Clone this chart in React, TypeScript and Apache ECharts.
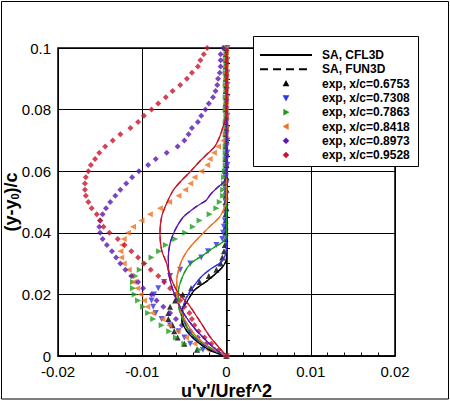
import React, { useEffect, useRef } from 'react';
import * as echarts from 'echarts';

const FONT = '"Liberation Sans", Arial, Helvetica, sans-serif';

// experimental stations (y-y0)/c
const expY = [
  0.1, 0.098, 0.096, 0.094, 0.092, 0.09, 0.088, 0.086, 0.084, 0.082,
  0.08, 0.078, 0.076, 0.074, 0.072, 0.07, 0.068, 0.066, 0.064, 0.062,
  0.06, 0.058, 0.056, 0.054, 0.052, 0.05, 0.048, 0.046, 0.044, 0.042,
  0.04, 0.038, 0.036, 0.034, 0.032, 0.03, 0.028, 0.026, 0.024, 0.022,
  0.02, 0.018, 0.016, 0.014, 0.012, 0.01, 0.008, 0.006, 0.004, 0.002,
  0,
];

const exp6753 = [
  0, -0.0001, 0, -0.0001, 0, -0.0001, 0, -0.0001, 0, -0.0001,
  -0.0001, 0, -0.0001, 0, -0.0001, 0, -0.0001, 0, -0.0001, 0,
  -0.0001, 0, -0.0001, 0, -0.0001, -0.0001, 0, -0.0001, -0.0001, -0.0001,
  -0.0001, -0.0001, -0.0002, -0.0003, -0.0005, -0.0007, -0.0012, -0.0021, -0.0032, -0.0042,
  -0.0052, -0.0061, -0.0067, -0.0069, -0.0069, -0.0064, -0.0062, -0.0058, -0.005, -0.0035,
  0,
];
const exp7308 = [
  0.0001, 0, 0.0001, 0, 0.0001, 0, 0.0001, 0, 0.0001, 0,
  0, 0.0001, 0, 0.0001, 0, 0.0001, 0, 0.0001, 0, 0.0001,
  -0.0001, -0.0001, 0, -0.0001, -0.0001, -0.0001, -0.0001, -0.0001, -0.0002, -0.0003,
  -0.0004, -0.0005, -0.0012, -0.0022, -0.003, -0.0043, -0.0055, -0.0067, -0.0074, -0.0081,
  -0.0086, -0.0089, -0.0087, -0.0084, -0.0077, -0.0067, -0.0057, -0.005, -0.0043, -0.0028,
  0,
];
const exp7863 = [
  -0.0001, 0, -0.0001, 0, -0.0001, 0, -0.0001, 0, -0.0001, 0,
  -0.0001, 0, -0.0001, 0, -0.0001, 0, -0.0001, -0.0001, -0.0001, -0.0001,
  -0.0002, -0.0003, -0.0003, -0.0004, -0.0004, -0.0008, -0.0012, -0.002, -0.0032, -0.004,
  -0.0049, -0.0061, -0.0072, -0.008, -0.0089, -0.0097, -0.0103, -0.0108, -0.0111, -0.0111,
  -0.0109, -0.0105, -0.0099, -0.0093, -0.0087, -0.0077, -0.0068, -0.006, -0.005, -0.0032,
  0,
];
const exp8418 = [
  -0.0001, -0.0001, -0.0001, -0.0001, -0.0001, -0.0001, -0.0001, -0.0001, -0.0001, -0.0001,
  -0.0001, -0.0001, -0.0001, -0.0001, -0.0001, -0.0004, -0.001, -0.0015, -0.002, -0.0023,
  -0.003, -0.0038, -0.0043, -0.0049, -0.0057, -0.0068, -0.0079, -0.0091, -0.0101, -0.0111,
  -0.0117, -0.0122, -0.0124, -0.0126, -0.0125, -0.0122, -0.0116, -0.0113, -0.011, -0.0106,
  -0.0102, -0.0098, -0.0094, -0.0088, -0.0076, -0.0068, -0.0058, -0.0048, -0.0038, -0.0022,
  0,
];
const exp8973 = [
  -0.0004, -0.0007, -0.0007, -0.0007, -0.0008, -0.001, -0.0011, -0.0013, -0.0016, -0.0021,
  -0.0025, -0.003, -0.0034, -0.0041, -0.0045, -0.005, -0.0058, -0.0071, -0.0084, -0.0093,
  -0.0104, -0.0112, -0.0119, -0.0126, -0.0132, -0.0138, -0.0143, -0.0147, -0.015, -0.0151,
  -0.015, -0.0147, -0.0142, -0.0136, -0.0131, -0.0126, -0.012, -0.0113, -0.0105, -0.0099,
  -0.0089, -0.0083, -0.0075, -0.0067, -0.006, -0.0053, -0.0043, -0.0034, -0.0024, -0.0014,
  0,
];
const exp9528 = [
  -0.0023, -0.0027, -0.0031, -0.0034, -0.0041, -0.0047, -0.0055, -0.0064, -0.0072, -0.0081,
  -0.0089, -0.0098, -0.0105, -0.0114, -0.0126, -0.0135, -0.0144, -0.0151, -0.0156, -0.0161,
  -0.0164, -0.0167, -0.0168, -0.0168, -0.0167, -0.0164, -0.016, -0.0154, -0.015, -0.0146,
  -0.0139, -0.0129, -0.0121, -0.0113, -0.0105, -0.0098, -0.009, -0.0081, -0.0074, -0.0067,
  -0.0061, -0.0055, -0.005, -0.0044, -0.0041, -0.0038, -0.0033, -0.0026, -0.0018, -0.0009,
  0,
];

// SA computations: [u'v'/Uref^2, (y-y0)/c]
const sa6753 = [[0, 0.1], [0, 0.0318], [-0.0001, 0.0305], [-0.0006, 0.0285], [-0.0022, 0.0246], [-0.0038, 0.0214], [-0.0047, 0.0176], [-0.0053, 0.0149], [-0.0053, 0.0116], [-0.0046, 0.0077], [-0.0034, 0.0045], [-0.002, 0.0019], [-0.0008, 0.0006], [0, 0]];
const sa7308 = [[0, 0.1], [0, 0.0344], [-0.0006, 0.0306], [-0.0018, 0.0284], [-0.003, 0.0257], [-0.0041, 0.0219], [-0.0049, 0.0181], [-0.0052, 0.0142], [-0.0048, 0.01], [-0.0039, 0.0061], [-0.0024, 0.0032], [-0.001, 0.0012], [0, 0]];
const sa7863 = [[0, 0.1], [0, 0.0389], [-0.0004, 0.0371], [-0.0014, 0.0354], [-0.0028, 0.0327], [-0.004, 0.0306], [-0.0047, 0.0285], [-0.0053, 0.0252], [-0.0057, 0.0214], [-0.0057, 0.0165], [-0.0053, 0.0127], [-0.0045, 0.0084], [-0.0032, 0.0048], [-0.0017, 0.0022], [0, 0]];
const sa8418 = [[0, 0.1], [0, 0.0506], [-0.0002, 0.0485], [-0.0008, 0.0452], [-0.002, 0.042], [-0.0032, 0.0387], [-0.0043, 0.0354], [-0.0051, 0.0322], [-0.0056, 0.0289], [-0.0059, 0.0246], [-0.0059, 0.0207], [-0.0056, 0.0159], [-0.0048, 0.011], [-0.0036, 0.0064], [-0.0022, 0.0032], [0, 0]];
const sa8973 = [[0, 0.1], [0, 0.0588], [-0.0003, 0.0565], [-0.001, 0.0549], [-0.0018, 0.0528], [-0.0024, 0.0506], [-0.0036, 0.0485], [-0.0051, 0.0452], [-0.0061, 0.0409], [-0.0067, 0.0366], [-0.0069, 0.0322], [-0.0069, 0.0279], [-0.0066, 0.0236], [-0.006, 0.0188], [-0.0051, 0.0139], [-0.0038, 0.009], [-0.0022, 0.0045], [-0.001, 0.0015], [0, 0]];
const sa9528 = [[0, 0.1], [0, 0.0783], [-0.0002, 0.076], [-0.0004, 0.0745], [-0.0008, 0.0712], [-0.0014, 0.068], [-0.0022, 0.0658], [-0.0034, 0.0626], [-0.0043, 0.0598], [-0.0053, 0.0571], [-0.0063, 0.0539], [-0.0071, 0.0496], [-0.0077, 0.0452], [-0.0079, 0.0398], [-0.0077, 0.0344], [-0.0071, 0.03], [-0.0065, 0.0246], [-0.0057, 0.0203], [-0.0046, 0.0171], [-0.0034, 0.0123], [-0.002, 0.0064], [-0.0008, 0.0025], [0, 0]];

const stations = ['0.6753', '0.7308', '0.7863', '0.8418', '0.8973', '0.9528'];
const colors = ['#000000', '#3232e6', '#1a9e1a', '#f07020', '#5a16b0', '#c8142a'];
const expSets = [exp6753, exp7308, exp7863, exp8418, exp8973, exp9528];
const saSets = [sa6753, sa7308, sa7863, sa8418, sa8973, sa9528];
const symbols = ['triangle', 'triangle', 'triangle', 'triangle', 'diamond', 'diamond'];
const rotations = [0, 180, -90, 90, 0, 0];

const fmt = (v: number) => (Math.abs(v) < 1e-12 ? '0' : String(parseFloat(v.toFixed(4))));

function legendGlyph(i: number, cx: number, cy: number) {
  const s = 3;
  let pts: number[][];
  if (i === 0) pts = [[cx, cy - s], [cx + s, cy + s * 0.8], [cx - s, cy + s * 0.8]];
  else if (i === 1) pts = [[cx, cy + s], [cx + s, cy - s * 0.8], [cx - s, cy - s * 0.8]];
  else if (i === 2) pts = [[cx + s, cy], [cx - s * 0.8, cy - s], [cx - s * 0.8, cy + s]];
  else if (i === 3) pts = [[cx - s, cy], [cx + s * 0.8, cy - s], [cx + s * 0.8, cy + s]];
  else pts = [[cx, cy - s], [cx + s, cy], [cx, cy + s], [cx - s, cy]];
  return { type: 'polygon', z: 101, shape: { points: pts }, style: { fill: colors[i], stroke: colors[i], lineWidth: 0.5 } };
}

export default function App() {
  const ref = useRef<HTMLDivElement>(null);
  useEffect(() => {
    document.body.style.margin = '0';
    if (!ref.current) return;
    const chart = echarts.init(ref.current, undefined, { renderer: 'svg' });

    const series: any[] = [];
    expSets.forEach((xs, i) => {
      series.push({
        name: 'exp, x/c=' + stations[i],
        type: 'scatter',
        data: xs.map((x, k) => [x, expY[k]]),
        symbol: symbols[i],
        symbolSize: 6,
        symbolRotate: rotations[i],
        itemStyle: { color: colors[i] },
        z: 2,
      });
    });
    saSets.forEach((d, i) => {
      series.push({
        name: 'SA, CFL3D ' + stations[i],
        type: 'line',
        data: d,
        showSymbol: false,
        smooth: 0.25,
        lineStyle: { color: colors[i], width: 1.3, type: 'solid' },
        z: 3,
      });
    });
    saSets.forEach((d, i) => {
      series.push({
        name: 'SA, FUN3D ' + stations[i],
        type: 'line',
        data: d,
        showSymbol: false,
        smooth: 0.25,
        lineStyle: { color: colors[i], width: 1.3, type: [6, 4] },
        z: 3,
      });
    });

    const rowY = [55, 69.3, 83.6, 97.9, 112.2, 126.5, 140.8, 155.1];
    const graphic: any[] = [
      { type: 'rect', z: 100, shape: { x: 1.5, y: 1.5, width: 447, height: 397.5 }, style: { fill: 'none', stroke: '#000', lineWidth: 1 } },
      { type: 'rect', z: 100, shape: { x: 253.5, y: 36.5, width: 165, height: 130 }, style: { fill: '#fff', stroke: '#000', lineWidth: 1 } },
      { type: 'line', z: 101, shape: { x1: 260, y1: rowY[0], x2: 312, y2: rowY[0] }, style: { stroke: '#000', lineWidth: 2 } },
      { type: 'line', z: 101, shape: { x1: 260, y1: rowY[1], x2: 312, y2: rowY[1] }, style: { stroke: '#000', lineWidth: 2, lineDash: [8, 5] } },
    ];
    const labels = ['SA, CFL3D', 'SA, FUN3D', ...stations.map((s) => 'exp, x/c=' + s)];
    labels.forEach((t, k) => {
      graphic.push({
        type: 'text', z: 101, x: 322, y: rowY[k],
        style: { text: t, fill: '#000', font: 'bold 12px ' + FONT, verticalAlign: 'middle' },
      });
    });
    stations.forEach((_, i) => graphic.push(legendGlyph(i, 286, rowY[i + 2])));

    chart.setOption({
      animation: false,
      backgroundColor: '#fff',
      grid: {
        left: 58, right: 55, top: 48, bottom: 45,
        show: true, borderColor: '#000', borderWidth: 1.5,
        containLabel: false, outerBoundsMode: 'none',
      },
      xAxis: {
        type: 'value', min: -0.02, max: 0.02, interval: 0.01,
        name: "u'v'/Uref^2", nameLocation: 'middle', nameGap: 26, nameMoveOverlap: false,
        nameTextStyle: { fontFamily: FONT, fontSize: 18, lineHeight: 18, fontWeight: 'bold', color: '#000' },
        axisLine: { show: true, lineStyle: { color: '#000', width: 1.5 } },
        axisTick: { show: true, inside: true, length: 6, lineStyle: { color: '#000', width: 1 } },
        minorTick: { show: true, splitNumber: 5, length: 3.5, lineStyle: { color: '#000', width: 1 } },
        splitLine: { show: true, lineStyle: { color: '#000', width: 1 } },
        axisLabel: { color: '#000', fontFamily: FONT, fontSize: 15, lineHeight: 13, margin: 9, formatter: fmt },
      },
      yAxis: {
        type: 'value', min: 0, max: 0.1, interval: 0.02,
        name: '(y-y{sub|0})/c', nameLocation: 'middle', nameGap: 38, nameRotate: 90, nameMoveOverlap: false,
        nameTextStyle: {
          fontFamily: FONT, fontSize: 18, fontWeight: 'bold', color: '#000',
          rich: { sub: { fontFamily: FONT, fontSize: 11, fontWeight: 'bold', color: '#000', verticalAlign: 'bottom', padding: [6, 0, 0, 0] } },
        },
        axisLine: { show: true, lineStyle: { color: '#000', width: 1.5 } },
        axisTick: { show: true, inside: true, length: 6, lineStyle: { color: '#000', width: 1 } },
        minorTick: { show: true, splitNumber: 4, length: 3.5, lineStyle: { color: '#000', width: 1 } },
        splitLine: { show: true, lineStyle: { color: '#000', width: 1 } },
        axisLabel: { color: '#000', fontFamily: FONT, fontSize: 15, lineHeight: 12, margin: 7, formatter: fmt },
      },
      series,
      graphic,
    });
    return () => chart.dispose();
  }, []);
  return <div ref={ref} style={{ position: 'absolute', left: 0, top: 0, width: 450, height: 401 }} />;
}
